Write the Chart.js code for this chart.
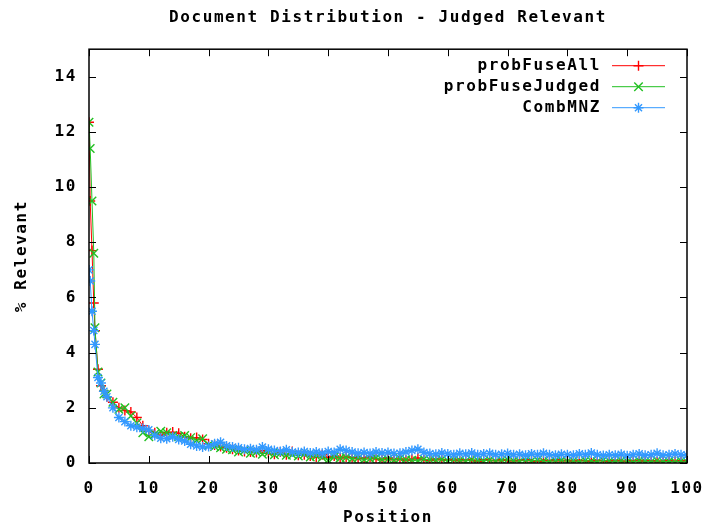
<!DOCTYPE html>
<html>
<head>
<meta charset="utf-8">
<title>Document Distribution - Judged Relevant</title>
<script src="https://cdn.jsdelivr.net/npm/chart.js@4/dist/chart.umd.min.js"></script>
<style>
    html, body {
        margin: 0;
        padding: 0;
        background: #ffffff;
    }

    #distChart {
        display: block;
        width: 708px;
        height: 527px;
    }
</style>
</head>
<body>

<canvas id="distChart" width="708" height="527"></canvas>

<script>
// ===============================
// DATA
// ===============================

const seriesNames = [
    "probFuseAll",
    "probFuseJudged",
    "CombMNZ"
];

const positions = [
    0, 0.2, 0.5, 0.8, 1, 1.5, 2, 2.5, 3,
    4, 5, 6, 7, 8, 9, 10, 11, 12, 13, 14, 15, 16, 17, 18, 19, 20,
    21, 22, 23, 24, 25, 26, 27, 28, 29, 30, 31, 32, 33, 34, 35, 36,
    37, 38, 39, 40, 41, 42, 43, 44, 45, 46, 47, 48, 49, 50, 51, 52,
    53, 54, 55, 56, 57, 58, 59, 60, 61, 62, 63, 64, 65, 66, 67, 68,
    69, 70, 71, 72, 73, 74, 75, 76, 77, 78, 79, 80, 81, 82, 83, 84,
    85, 86, 87, 88, 89, 90, 91, 92, 93, 94, 95, 96, 97, 98, 99, 100
];

const probFuseAll = [
    12.35, 9.5, 7.7, 5.8, 4.8, 3.4, 2.8, 2.6, 2.4,
    2.2, 2.0, 1.9, 1.85, 1.65, 1.35, 1.15, 1.1, 1.0, 1.1, 1.12, 1.08, 0.95, 0.9, 0.92, 0.85, 0.7,
    0.65, 0.6, 0.55, 0.5, 0.45, 0.42, 0.4, 0.38, 0.45, 0.35, 0.32, 0.4, 0.3, 0.42, 0.28, 0.3,
    0.25, 0.22, 0.3, 0.2, 0.25, 0.18, 0.22, 0.2, 0.15, 0.18, 0.22, 0.15, 0.12, 0.18, 0.12, 0.15,
    0.1, 0.14, 0.18, 0.12, 0.1, 0.15, 0.12, 0.1, 0.14, 0.08, 0.12, 0.1, 0.06, 0.12, 0.1, 0.08,
    0.12, 0.1, 0.07, 0.1, 0.12, 0.08, 0.06, 0.1, 0.08, 0.12, 0.07, 0.1, 0.06, 0.1, 0.08, 0.05,
    0.1, 0.08, 0.06, 0.1, 0.07, 0.05, 0.08, 0.1, 0.06, 0.08, 0.05, 0.07, 0.09, 0.06, 0.08, 0.05
];

const probFuseJudged = [
    12.35, 11.4, 9.5, 7.6, 4.9, 3.3, 2.9, 2.5, 2.5,
    2.2, 1.95, 2.0, 1.7, 1.45, 1.1, 0.95, 1.05, 1.15, 1.1, 1.0, 0.95, 1.0, 0.92, 0.82, 0.88, 0.65,
    0.6, 0.55, 0.5, 0.48, 0.4, 0.45, 0.35, 0.4, 0.32, 0.38, 0.3, 0.35, 0.28, 0.3, 0.25, 0.32,
    0.22, 0.25, 0.2, 0.1, 0.22, 0.18, 0.2, 0.15, 0.18, 0.12, 0.15, 0.2, 0.12, 0.14, 0.1, 0.16,
    0.12, 0.1, 0.08, 0.14, 0.12, 0.1, 0.13, 0.08, 0.12, 0.1, 0.07, 0.12, 0.1, 0.08, 0.11, 0.06,
    0.1, 0.12, 0.08, 0.06, 0.1, 0.08, 0.11, 0.07, 0.05, 0.09, 0.1, 0.06, 0.08, 0.05, 0.09, 0.07,
    0.05, 0.1, 0.07, 0.05, 0.08, 0.06, 0.04, 0.08, 0.06, 0.05, 0.08, 0.05, 0.06, 0.04, 0.07, 0.05
];

const combMNZ = [
    7.0, 6.6, 5.5, 4.8, 4.3, 3.1, 2.9, 2.6, 2.4,
    2.0, 1.65, 1.5, 1.35, 1.3, 1.25, 1.2, 1.0, 0.9, 0.88, 0.95, 0.85, 0.8, 0.68, 0.62, 0.58, 0.6,
    0.7, 0.75, 0.62, 0.58, 0.55, 0.5, 0.52, 0.48, 0.58, 0.5, 0.45, 0.42, 0.48, 0.4, 0.38, 0.42,
    0.36, 0.4, 0.35, 0.42, 0.38, 0.5, 0.45, 0.4, 0.35, 0.38, 0.34, 0.4, 0.36, 0.38, 0.34, 0.35,
    0.4, 0.45, 0.5, 0.38, 0.34, 0.32, 0.36, 0.33, 0.3, 0.35, 0.32, 0.36, 0.3, 0.33, 0.35, 0.3,
    0.32, 0.34, 0.3, 0.32, 0.28, 0.33, 0.3, 0.35, 0.3, 0.28, 0.32, 0.3, 0.28, 0.33, 0.3, 0.36,
    0.3, 0.27, 0.3, 0.28, 0.32, 0.26, 0.3, 0.33, 0.28, 0.3, 0.35, 0.28, 0.3, 0.33, 0.3, 0.28
];

const xTickValues = [0, 10, 20, 30, 40, 50, 60, 70, 80, 90, 100];

const yTickValues = [0, 2, 4, 6, 8, 10, 12, 14];

// ===============================
// STYLE
// ===============================

const FONT_FAMILY = "'DejaVu Sans Mono', 'Liberation Mono', monospace";

const LETTER_SPACING = "1.6px";

const seriesColors = ["#ff0000", "#22c022", "#3399ff"];

const seriesMarkers = ["cross", "crossRot", "star"];

const seriesMarkerSizes = [5, 6, 5];

const labelFont = {
    family: FONT_FAMILY,
    size: 16,
    weight: "bold",
    lineHeight: 1.2
};

function toPoints(values) {

    return positions.map((x, i) => ({ x: x, y: values[i] }));
}

// =================================
// PLUGINS
// =================================

// letter spacing for the wide gnuplot bitmap font
const spacingPlugin = {

    id: "spacing",

    beforeUpdate(chart) {
        chart.ctx.letterSpacing = LETTER_SPACING;
    },

    beforeDraw(chart) {
        chart.ctx.letterSpacing = LETTER_SPACING;
    }
};

// frame, inward ticks on all four sides and the key
const framePlugin = {

    id: "frame",

    afterDatasetsDraw(chart) {

        const ctx = chart.ctx;

        const area = chart.chartArea;

        const xs = chart.scales.x;

        const ys = chart.scales.y;

        const tick = 7;

        ctx.save();

        ctx.strokeStyle = "#000000";

        ctx.lineWidth = 1;

        ctx.beginPath();

        xTickValues.forEach(v => {

            const px = Math.round(xs.getPixelForValue(v)) + 0.5;

            ctx.moveTo(px, area.bottom);
            ctx.lineTo(px, area.bottom - tick);

            ctx.moveTo(px, area.top);
            ctx.lineTo(px, area.top + tick);
        });

        yTickValues.forEach(v => {

            const py = Math.round(ys.getPixelForValue(v)) + 0.5;

            ctx.moveTo(area.left, py);
            ctx.lineTo(area.left + tick, py);

            ctx.moveTo(area.right, py);
            ctx.lineTo(area.right - tick, py);
        });

        ctx.stroke();

        ctx.lineWidth = 1.5;

        ctx.strokeRect(
            area.left,
            area.top,
            area.right - area.left,
            area.bottom - area.top
        );

        // key
        ctx.font = "bold 16px " + FONT_FAMILY;

        ctx.textAlign = "right";

        ctx.textBaseline = "middle";

        seriesNames.forEach((name, i) => {

            const y = area.top + 16 + i * 21;

            const lineStart = area.right - 75;

            const lineEnd = area.right - 22;

            ctx.fillStyle = "#000000";

            ctx.fillText(name, area.right - 86, y + 1);

            ctx.strokeStyle = seriesColors[i];

            ctx.fillStyle = seriesColors[i];

            ctx.lineWidth = 1;

            ctx.beginPath();
            ctx.moveTo(lineStart, y + 0.5);
            ctx.lineTo(lineEnd, y + 0.5);
            ctx.stroke();

            ctx.lineWidth = 1.4;

            Chart.helpers.drawPoint(ctx, {
                pointStyle: seriesMarkers[i],
                radius: seriesMarkerSizes[i],
                rotation: 0,
                borderWidth: 1.4
            }, (lineStart + lineEnd) / 2, y + 0.5);
        });

        ctx.restore();
    }
};

// =================================
// CHART
// =================================

window.onload = function () {

    createDistributionChart();
};

function createDistributionChart() {

    const canvas =
        document.getElementById("distChart");

    const seriesValues = [probFuseAll, probFuseJudged, combMNZ];

    const datasets = seriesNames.map((name, i) => ({

        label: name,

        data: toPoints(seriesValues[i]),

        borderColor: seriesColors[i],

        backgroundColor: seriesColors[i],

        borderWidth: 1,

        pointStyle: seriesMarkers[i],

        pointRadius: seriesMarkerSizes[i],

        pointBorderWidth: 1.4,

        pointHoverRadius: seriesMarkerSizes[i],

        tension: 0,

        fill: false,

        order: 3 - i
    }));

    new Chart(canvas, {

        type: "line",

        data: {
            datasets: datasets
        },

        plugins: [spacingPlugin, framePlugin],

        options: {

            responsive: false,

            maintainAspectRatio: false,

            animation: false,

            devicePixelRatio: 1,

            layout: {
                padding: {
                    top: 0,
                    right: 21,
                    bottom: 0,
                    left: 0
                }
            },

            plugins: {

                legend: {
                    display: false
                },

                tooltip: {
                    enabled: false
                },

                title: {

                    display: true,

                    fullSize: false,

                    text: "Document Distribution - Judged Relevant",

                    color: "#000000",

                    font: labelFont,

                    padding: {
                        top: 8,
                        bottom: 22
                    }
                }
            },

            scales: {

                x: {

                    type: "linear",

                    min: 0,

                    max: 100,

                    afterFit(scale) {
                        scale.height = 64;
                        scale.paddingLeft = 0;
                        scale.paddingRight = 0;
                    },

                    afterBuildTicks(scale) {
                        scale.ticks = xTickValues.map(v => ({ value: v }));
                    },

                    grid: {
                        display: false,
                        drawTicks: false
                    },

                    border: {
                        display: false
                    },

                    ticks: {
                        color: "#000000",
                        padding: 16,
                        maxRotation: 0,
                        font: labelFont
                    },

                    title: {
                        display: true,
                        text: "Position",
                        color: "#000000",
                        padding: {
                            top: 1,
                            bottom: 0
                        },
                        font: labelFont
                    }
                },

                y: {

                    type: "linear",

                    min: 0,

                    max: 15,

                    afterFit(scale) {
                        scale.width = 89;
                        scale.paddingTop = 0;
                        scale.paddingBottom = 0;
                    },

                    afterBuildTicks(scale) {
                        scale.ticks = yTickValues.map(v => ({ value: v }));
                    },

                    grid: {
                        display: false,
                        drawTicks: false
                    },

                    border: {
                        display: false
                    },

                    ticks: {
                        color: "#000000",
                        padding: 12,
                        font: labelFont
                    },

                    title: {
                        display: true,
                        text: "% Relevant",
                        color: "#000000",
                        padding: {
                            top: 12,
                            bottom: 0
                        },
                        font: labelFont
                    }
                }
            }
        }
    });
}
</script>

</body>
</html>
